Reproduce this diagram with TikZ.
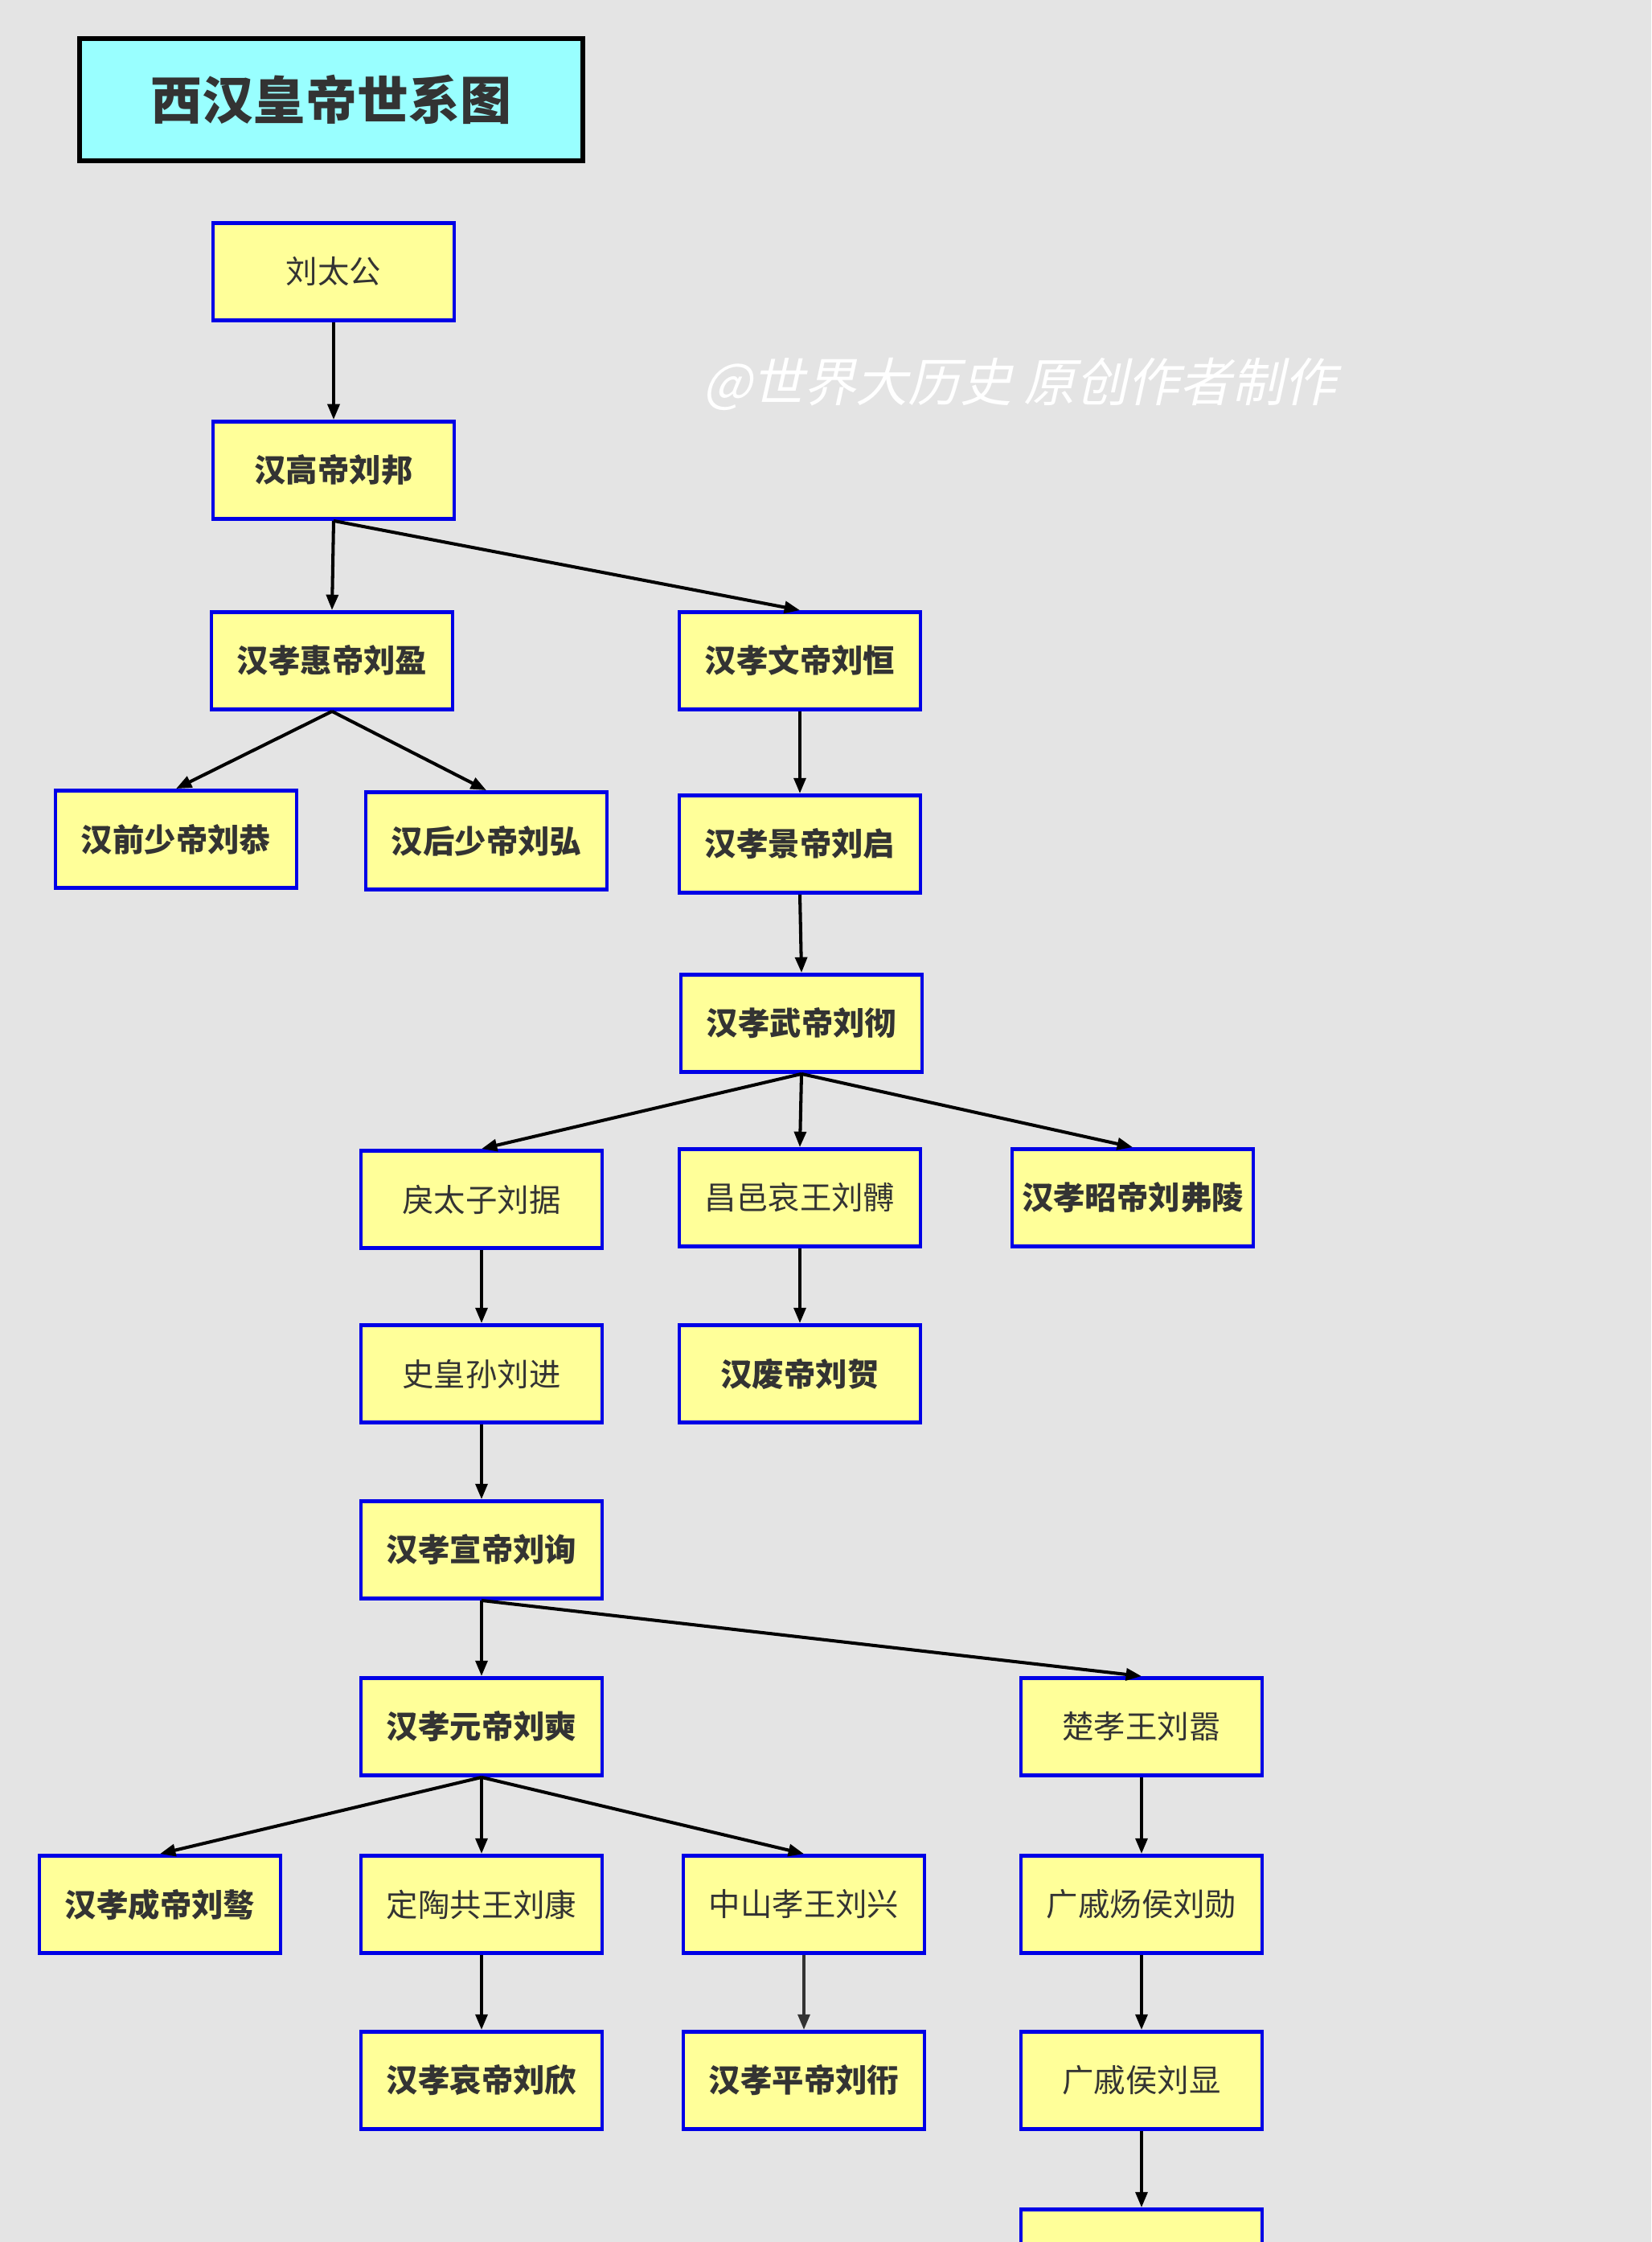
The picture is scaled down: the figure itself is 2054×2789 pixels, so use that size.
\documentclass[tikz,border=0pt]{standalone}
\usepackage{fontspec}
\setmainfont{Noto Sans CJK SC}
\newfontfamily\wmfont[FakeSlant=0.22]{Noto Sans CJK SC}
\usetikzlibrary{arrows.meta}
\definecolor{bg}{RGB}{228,228,228}
\definecolor{boxblue}{RGB}{0,0,230}
\definecolor{boxyellow}{RGB}{255,255,153}
\definecolor{titlecyan}{RGB}{153,255,255}
\definecolor{txt}{RGB}{51,51,51}
\begin{document}
\begin{tikzpicture}[x=0.01cm,y=-0.01cm,
  person/.style={draw=boxblue, fill=boxyellow, line width=1.35pt,
    minimum width=3.0cm, minimum height=1.21cm, inner sep=0pt,
    font=\fontsize{11.2}{13}\selectfont, text=txt},
  emperor/.style={person, font=\fontsize{11.2}{13}\selectfont\bfseries},
  titlebox/.style={draw=black, fill=titlecyan, line width=1.8pt,
    minimum width=6.26cm, minimum height=1.52cm, inner sep=0pt,
    font=\fontsize{18.2}{20}\selectfont\bfseries, text=txt},
  link/.style={line width=1.15pt, draw=black, -{Triangle[length=5.5pt,width=4.2pt]}}]
\path[use as bounding box] (0,0) rectangle (2054,2789);
\clip (0,0) rectangle (2054,2789);
\fill[bg] (0,0) rectangle (2054,2789);

\node[titlebox] (title) at (412,124) {西汉皇帝世系图};
\node[text=white, font=\wmfont\fontsize{18.4}{20}\selectfont] (wm) at (1268,478) {@世界大历史 原创作者制作};

\node[person]  (taigong)  at (415,338)  {刘太公};
\node[emperor] (gaodi)    at (415,585)  {汉高帝刘邦};
\node[emperor] (huidi)    at (413,822)  {汉孝惠帝刘盈};
\node[emperor] (wendi)    at (995,822)  {汉孝文帝刘恒};
\node[emperor] (qianshao) at (219,1044) {汉前少帝刘恭};
\node[emperor] (houshao)  at (605,1046) {汉后少帝刘弘};
\node[emperor] (jingdi)   at (995,1050) {汉孝景帝刘启};
\node[emperor] (wudi)     at (997,1273) {汉孝武帝刘彻};
\node[person]  (litaizi)  at (599,1492) {戾太子刘据};
\node[person]  (changyi)  at (995,1490) {昌邑哀王刘髆};
\node[emperor] (zhaodi)   at (1409,1490) {汉孝昭帝刘弗陵};
\node[person]  (shihuangsun) at (599,1709) {史皇孙刘进};
\node[emperor] (feidi)    at (995,1709) {汉废帝刘贺};
\node[emperor] (xuandi)   at (599,1928) {汉孝宣帝刘询};
\node[emperor] (yuandi)   at (599,2148) {汉孝元帝刘奭};
\node[person]  (chuxiao)  at (1420,2148) {楚孝王刘嚣};
\node[emperor] (chengdi)  at (199,2369) {汉孝成帝刘骜};
\node[person]  (dingtao)  at (599,2369) {定陶共王刘康};
\node[person]  (zhongshan) at (1000,2369) {中山孝王刘兴};
\node[person]  (guangqiyang) at (1420,2369) {广戚炀侯刘勋};
\node[emperor] (aidi)     at (599,2588) {汉孝哀帝刘欣};
\node[emperor] (pingdi)   at (1000,2588) {汉孝平帝刘衎};
\node[person]  (guangqi)  at (1420,2588) {广戚侯刘显};
\node[person]  (bottom)   at (1420,2809) {};

\draw[link] (taigong.south) -- (gaodi.north);
\draw[link] (gaodi.south) -- (huidi.north);
\draw[link] (gaodi.south) -- (wendi.north);
\draw[link] (huidi.south) -- (qianshao.north);
\draw[link] (huidi.south) -- (houshao.north);
\draw[link] (wendi.south) -- (jingdi.north);
\draw[link] (jingdi.south) -- (wudi.north);
\draw[link] (wudi.south) -- (litaizi.north);
\draw[link] (wudi.south) -- (changyi.north);
\draw[link] (wudi.south) -- (zhaodi.north);
\draw[link] (litaizi.south) -- (shihuangsun.north);
\draw[link] (changyi.south) -- (feidi.north);
\draw[link] (shihuangsun.south) -- (xuandi.north);
\draw[link] (xuandi.south) -- (yuandi.north);
\draw[link] (xuandi.south) -- (chuxiao.north);
\draw[link] (yuandi.south) -- (chengdi.north);
\draw[link] (yuandi.south) -- (dingtao.north);
\draw[link] (yuandi.south) -- (zhongshan.north);
\draw[link] (dingtao.south) -- (aidi.north);
\draw[link, draw=txt] (zhongshan.south) -- (pingdi.north);
\draw[link] (chuxiao.south) -- (guangqiyang.north);
\draw[link] (guangqiyang.south) -- (guangqi.north);
\draw[link] (guangqi.south) -- (bottom.north);
\end{tikzpicture}
\end{document}
